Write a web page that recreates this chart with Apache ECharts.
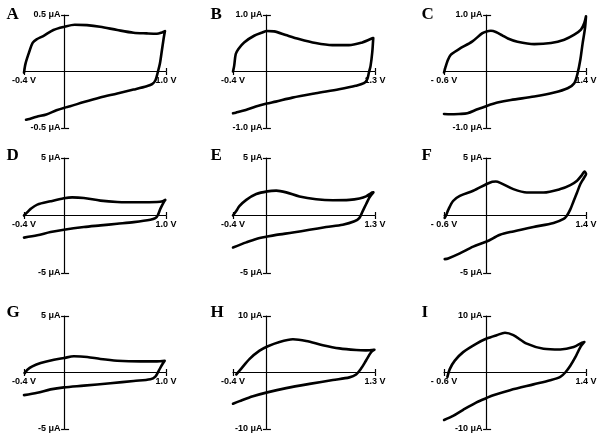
<!DOCTYPE html>
<html>
<head>
<meta charset="utf-8">
<script src="https://cdn.jsdelivr.net/npm/echarts@6.0.0/dist/echarts.min.js"></script>
<style>
html,body{margin:0;padding:0;background:#fff;}
#chart{width:604px;height:440px;}
</style>
</head>
<body>
<div id="chart"></div>
<script>
// ---------- Panel A ----------
const aVoltage = [-0.40,-0.385,-0.348,-0.315,-0.276,-0.21,-0.11,0.00,0.10,0.22,0.35,0.52,0.68,0.81,0.91,0.96,0.99,0.98,0.96,0.94,0.92,0.896,0.863,0.81,0.68,0.52,0.35,0.19,0.055,0.00,-0.08,-0.18,-0.275,-0.36,-0.38];
const aCurrent = [-0.01,0.07,0.175,0.254,0.284,0.314,0.367,0.396,0.414,0.41,0.396,0.367,0.343,0.337,0.334,0.346,0.358,0.31,0.19,0.07,-0.003,-0.077,-0.112,-0.13,-0.16,-0.195,-0.23,-0.27,-0.308,-0.32,-0.343,-0.38,-0.40,-0.423,-0.427];
const aXRange = [-0.4, 1.0];
const aYRange = [-0.5, 0.5];
const aXTickLabels = ['-0.4 V', '1.0 V'];
const aYTickLabels = ['-0.5 \u03bcA', '0.5 \u03bcA'];

// ---------- Panel B ----------
const bVoltage = [-0.40,-0.386,-0.367,-0.335,-0.267,-0.147,-0.048,0.004,0.092,0.231,0.39,0.59,0.789,0.988,1.147,1.247,1.279,1.267,1.247,1.227,1.207,1.167,1.068,0.869,0.59,0.311,0.112,0.004,-0.127,-0.247,-0.367,-0.40];
const bCurrent = [0.00,0.10,0.31,0.40,0.515,0.633,0.69,0.716,0.71,0.645,0.574,0.503,0.467,0.467,0.515,0.574,0.592,0.337,0.10,-0.018,-0.136,-0.207,-0.254,-0.314,-0.385,-0.462,-0.533,-0.568,-0.621,-0.68,-0.728,-0.74];
const bXRange = [-0.4, 1.3];
const bYRange = [-1.0, 1.0];
const bXTickLabels = ['-0.4 V', '1.3 V'];
const bYTickLabels = ['-1.0 \u03bcA', '1.0 \u03bcA'];

// ---------- Panel C ----------
const cVoltage = [-0.60,-0.576,-0.553,-0.506,-0.388,-0.20,-0.059,0.00,0.06,0.13,0.22,0.30,0.435,0.671,0.906,1.094,1.235,1.329,1.376,1.40,1.386,1.353,1.32,1.282,1.235,1.141,0.953,0.671,0.341,0.153,0.002,-0.129,-0.271,-0.388,-0.506,-0.60];
const cCurrent = [-0.018,0.089,0.178,0.296,0.396,0.533,0.68,0.71,0.72,0.70,0.64,0.585,0.527,0.485,0.503,0.562,0.651,0.74,0.858,0.976,0.769,0.503,0.207,-0.03,-0.207,-0.296,-0.373,-0.444,-0.503,-0.55,-0.609,-0.669,-0.74,-0.751,-0.757,-0.751];
const cXRange = [-0.6, 1.4];
const cYRange = [-1.0, 1.0];
const cXTickLabels = ['- 0.6 V', '1.4 V'];
const cYTickLabels = ['-1.0 \u03bcA', '1.0 \u03bcA'];

// ---------- Panel D ----------
const dVoltage = [-0.40,-0.367,-0.334,-0.269,-0.138,-0.007,0.075,0.19,0.354,0.518,0.748,0.911,0.967,0.993,0.977,0.944,0.918,0.895,0.846,0.682,0.518,0.354,0.19,-0.007,-0.138,-0.269,-0.40];
const dCurrent = [0.00,0.287,0.575,0.948,1.236,1.494,1.58,1.523,1.293,1.178,1.149,1.178,1.236,1.35,1.149,0.575,0.00,-0.23,-0.374,-0.575,-0.718,-0.862,-1.006,-1.236,-1.437,-1.724,-1.925];
const dXRange = [-0.4, 1.0];
const dYRange = [-5, 5];
const dXTickLabels = ['-0.4 V', '1.0 V'];
const dYTickLabels = ['-5 \u03bcA', '5 \u03bcA'];

// ---------- Panel E ----------
const eVoltage = [-0.40,-0.361,-0.321,-0.241,-0.122,0.01,0.118,0.237,0.396,0.596,0.795,0.994,1.114,1.193,1.253,1.281,1.233,1.193,1.153,1.114,1.054,0.914,0.715,0.516,0.317,0.118,0.01,-0.122,-0.241,-0.40];
const eCurrent = [0.00,0.385,0.828,1.361,1.864,2.10,2.16,2.01,1.657,1.42,1.331,1.361,1.479,1.657,1.953,2.01,1.568,0.976,0.385,-0.207,-0.503,-0.799,-1.006,-1.243,-1.479,-1.686,-1.834,-2.041,-2.337,-2.781];
const eXRange = [-0.4, 1.3];
const eYRange = [-5, 5];
const eXTickLabels = ['-0.4 V', '1.3 V'];
const eYTickLabels = ['-5 \u03bcA', '5 \u03bcA'];

// ---------- Panel F ----------
const fVoltage = [-0.59,-0.566,-0.542,-0.472,-0.377,-0.189,0.00,0.08,0.13,0.20,0.377,0.566,0.802,1.038,1.179,1.274,1.344,1.377,1.401,1.368,1.321,1.274,1.226,1.179,1.132,1.085,0.943,0.66,0.377,0.189,0.00,-0.189,-0.377,-0.542,-0.59];
const fCurrent = [-0.206,0.088,0.47,1.265,1.706,2.147,2.735,2.94,2.96,2.82,2.294,2.00,2.00,2.294,2.647,3.029,3.529,3.824,3.618,3.235,2.735,2.00,1.265,0.529,0.00,-0.294,-0.647,-1.00,-1.382,-1.676,-2.265,-2.706,-3.294,-3.735,-3.794];
const fXRange = [-0.6, 1.4];
const fYRange = [-5, 5];
const fXTickLabels = ['- 0.6 V', '1.4 V'];
const fYTickLabels = ['-5 \u03bcA', '5 \u03bcA'];

// ---------- Panel G ----------
const gVoltage = [-0.393,-0.367,-0.318,-0.236,-0.105,-0.007,0.092,0.223,0.354,0.518,0.748,0.911,0.987,0.961,0.928,0.895,0.846,0.682,0.452,0.19,-0.007,-0.138,-0.269,-0.40];
const gCurrent = [-0.06,0.239,0.537,0.836,1.134,1.284,1.433,1.373,1.194,1.045,0.985,0.985,1.045,0.687,0.149,-0.358,-0.597,-0.746,-0.955,-1.164,-1.313,-1.493,-1.791,-2.00];
const gXRange = [-0.4, 1.0];
const gYRange = [-5, 5];
const gXTickLabels = ['-0.4 V', '1.0 V'];
const gYTickLabels = ['-5 \u03bcA', '5 \u03bcA'];

// ---------- Panel H ----------
const hVoltage = [-0.36,-0.301,-0.201,-0.082,0.01,0.157,0.317,0.476,0.675,0.874,1.074,1.193,1.293,1.253,1.193,1.133,1.074,0.994,0.795,0.516,0.237,0.01,-0.161,-0.321,-0.40];
const hCurrent = [-0.346,0.692,2.421,3.862,4.611,5.418,5.879,5.591,4.841,4.265,3.977,3.919,4.035,3.573,2.133,0.692,-0.346,-0.865,-1.326,-2.017,-2.767,-3.516,-4.207,-5.072,-5.533];
const hXRange = [-0.4, 1.3];
const hYRange = [-10, 10];
const hXTickLabels = ['-0.4 V', '1.3 V'];
const hYTickLabels = ['-10 \u03bcA', '10 \u03bcA'];

// ---------- Panel I ----------
const iVoltage = [-0.552,-0.519,-0.448,-0.33,-0.142,0.00,0.142,0.259,0.377,0.566,0.802,1.038,1.226,1.344,1.377,1.321,1.25,1.179,1.108,1.038,0.896,0.66,0.33,0.094,0.00,-0.142,-0.33,-0.472,-0.599];
const iCurrent = [-0.781,0.601,2.102,3.604,5.105,6.006,6.607,7.027,6.607,5.105,4.204,4.084,4.505,5.285,5.405,4.505,2.703,1.201,0.00,-0.781,-1.381,-2.102,-3.123,-4.024,-4.505,-5.285,-6.607,-7.688,-8.408];
const iXRange = [-0.6, 1.4];
const iYRange = [-10, 10];
const iXTickLabels = ['- 0.6 V', '1.4 V'];
const iYTickLabels = ['-10 \u03bcA', '10 \u03bcA'];

const panelLetters = ['A','B','C','D','E','F','G','H','I'];

const panels = [
  {v:aVoltage, c:aCurrent, xr:aXRange, yr:aYRange, xl:aXTickLabels, yl:aYTickLabels},
  {v:bVoltage, c:bCurrent, xr:bXRange, yr:bYRange, xl:bXTickLabels, yl:bYTickLabels},
  {v:cVoltage, c:cCurrent, xr:cXRange, yr:cYRange, xl:cXTickLabels, yl:cYTickLabels},
  {v:dVoltage, c:dCurrent, xr:dXRange, yr:dYRange, xl:dXTickLabels, yl:dYTickLabels},
  {v:eVoltage, c:eCurrent, xr:eXRange, yr:eYRange, xl:eXTickLabels, yl:eYTickLabels},
  {v:fVoltage, c:fCurrent, xr:fXRange, yr:fYRange, xl:fXTickLabels, yl:fYTickLabels},
  {v:gVoltage, c:gCurrent, xr:gXRange, yr:gYRange, xl:gXTickLabels, yl:gYTickLabels},
  {v:hVoltage, c:hCurrent, xr:hXRange, yr:hYRange, xl:hXTickLabels, yl:hYTickLabels},
  {v:iVoltage, c:iCurrent, xr:iXRange, yr:iYRange, xl:iXTickLabels, yl:iYTickLabels}
];

// layout (pixels)
const colLeft = [24, 233, 444];
const colWidth = 142;
const rowTop = [15, 158, 316];
const rowHeight = [113, 115, 113];
const letterLeft = [6.5, 210.5, 421.5];
const letterTop = [6, 147.5, 304];

const axisStyle = {color:'#000', width:1.2};
const labelStyle = {fontFamily:'Liberation Sans, Arial, sans-serif', fontSize:9, fontWeight:'bold', color:'#000'};

const grids = [], xAxes = [], yAxes = [], series = [], titles = [];

panels.forEach((p, i) => {
  const col = i % 3, row = Math.floor(i / 3);
  const w = colWidth, h = rowHeight[row];
  grids.push({left:colLeft[col], top:rowTop[row], width:w, height:h, outerBoundsMode:'none', containLabel:false});
  titles.push({text:panelLetters[i], left:letterLeft[col], top:letterTop[row], padding:0,
    textStyle:{fontFamily:'Liberation Serif, Times New Roman, serif', fontWeight:'bold', fontSize:17, color:'#000'}});
  // axes cross at the origin: shift them from the grid edges to the zero position
  const xOff = -h * (0 - p.yr[0]) / (p.yr[1] - p.yr[0]);
  const yOff = -w * (0 - p.xr[0]) / (p.xr[1] - p.xr[0]);
  const xi = xAxes.length, yi = yAxes.length;
  xAxes.push({type:'value', gridIndex:i, min:p.xr[0], max:p.xr[1], position:'bottom', offset:xOff,
    axisLine:{show:true, onZero:false, lineStyle:axisStyle},
    axisTick:{show:true, length:3.5, customValues:p.xr, lineStyle:axisStyle},
    axisLabel:Object.assign({show:true, customValues:p.xr, margin:5,
      formatter:(val) => (val === p.xr[0] ? p.xl[0] : p.xl[1])}, labelStyle),
    splitLine:{show:false}});
  xAxes.push({type:'value', gridIndex:i, min:p.xr[0], max:p.xr[1], position:'bottom', offset:xOff,
    axisLine:{show:false, onZero:false},
    axisTick:{show:true, inside:true, length:3.5, customValues:p.xr, lineStyle:axisStyle},
    axisLabel:{show:false}, splitLine:{show:false}});
  yAxes.push({type:'value', gridIndex:i, min:p.yr[0], max:p.yr[1], position:'left', offset:yOff,
    axisLine:{show:true, onZero:false, lineStyle:axisStyle},
    axisTick:{show:true, length:3.5, customValues:p.yr, lineStyle:axisStyle},
    axisLabel:Object.assign({show:true, customValues:p.yr, margin:4,
      formatter:(val) => (val === p.yr[0] ? p.yl[0] : p.yl[1])}, labelStyle),
    splitLine:{show:false}});
  yAxes.push({type:'value', gridIndex:i, min:p.yr[0], max:p.yr[1], position:'left', offset:yOff,
    axisLine:{show:false, onZero:false},
    axisTick:{show:true, inside:true, length:4.5, customValues:p.yr, lineStyle:axisStyle},
    axisLabel:{show:false}, splitLine:{show:false}});
  series.push({type:'line', xAxisIndex:xi, yAxisIndex:yi,
    data:p.v.map((x, k) => [x, p.c[k]]),
    showSymbol:false, symbol:'none', smooth:0.3, clip:false, silent:true,
    lineStyle:{color:'#000', width:2.6, cap:'round', join:'round'}});
});

const chart = echarts.init(document.getElementById('chart'), null, {renderer:'canvas'});
chart.setOption({
  animation:false,
  backgroundColor:'#fff',
  title:titles,
  grid:grids,
  xAxis:xAxes,
  yAxis:yAxes,
  series:series
});
</script>
</body>
</html>
